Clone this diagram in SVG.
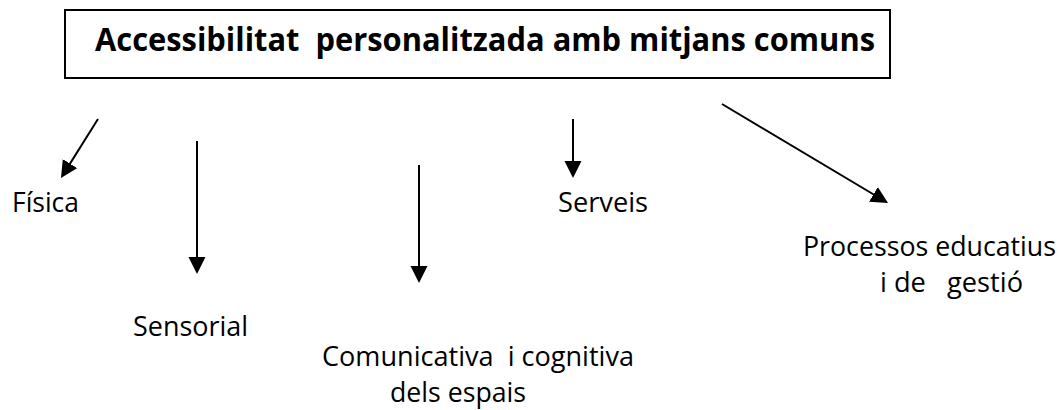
<svg xmlns="http://www.w3.org/2000/svg" width="1062" height="410" viewBox="0 0 1062 410">
  <style>
    .lbl { font-family: "Open Sans", "Noto Sans", "DejaVu Sans", sans-serif; font-size: 27px; fill: #000; white-space: pre; }
    .title { font-family: "Open Sans", "Noto Sans", "DejaVu Sans", sans-serif; font-size: 32px; font-weight: bold; fill: #000; white-space: pre; }
    .conn { stroke: #000; stroke-width: 2; fill: none; marker-end: url(#arr); }
  </style>
  <defs>
    <marker id="arr" markerUnits="userSpaceOnUse" markerWidth="18" markerHeight="18" refX="13" refY="8.5" orient="auto">
      <path d="M0,0 L17,8.5 L0,17 z" fill="#000"/>
    </marker>
  </defs>
  <rect width="1062" height="410" fill="#fff"/>
  <g id="root">
    <rect x="65" y="10" width="825" height="68" fill="#fff" stroke="#000" stroke-width="2"/>
    <text class="title" x="95" y="51" textLength="780" lengthAdjust="spacingAndGlyphs">Accessibilitat  personalitzada amb mitjans comuns</text>
  </g>
  <g id="fisica">
    <text class="lbl" x="12" y="212" textLength="67" lengthAdjust="spacingAndGlyphs">Física</text>
  </g>
  <g id="sensorial">
    <text class="lbl" x="133" y="336" textLength="115" lengthAdjust="spacingAndGlyphs">Sensorial</text>
  </g>
  <g id="comunicativa">
    <text class="lbl" x="322" y="366" textLength="312" lengthAdjust="spacingAndGlyphs">Comunicativa  i cognitiva</text>
    <text class="lbl" x="390" y="402" textLength="136" lengthAdjust="spacingAndGlyphs">dels espais</text>
  </g>
  <g id="serveis">
    <text class="lbl" x="558" y="212" textLength="90" lengthAdjust="spacingAndGlyphs">Serveis</text>
  </g>
  <g id="processos">
    <text class="lbl" x="803" y="256" textLength="253" lengthAdjust="spacingAndGlyphs">Processos educatius</text>
    <text class="lbl" x="880" y="292" textLength="143" lengthAdjust="spacingAndGlyphs">i de   gestió</text>
  </g>
  <g id="connectors">
    <line class="conn" x1="98" y1="119" x2="63.1" y2="174.6"/>
    <line class="conn" x1="197" y1="141" x2="197" y2="270"/>
    <line class="conn" x1="419" y1="165" x2="419" y2="279"/>
    <line class="conn" x1="573" y1="119" x2="573" y2="174"/>
    <line class="conn" x1="722" y1="104" x2="884.6" y2="201"/>
  </g>
</svg>
